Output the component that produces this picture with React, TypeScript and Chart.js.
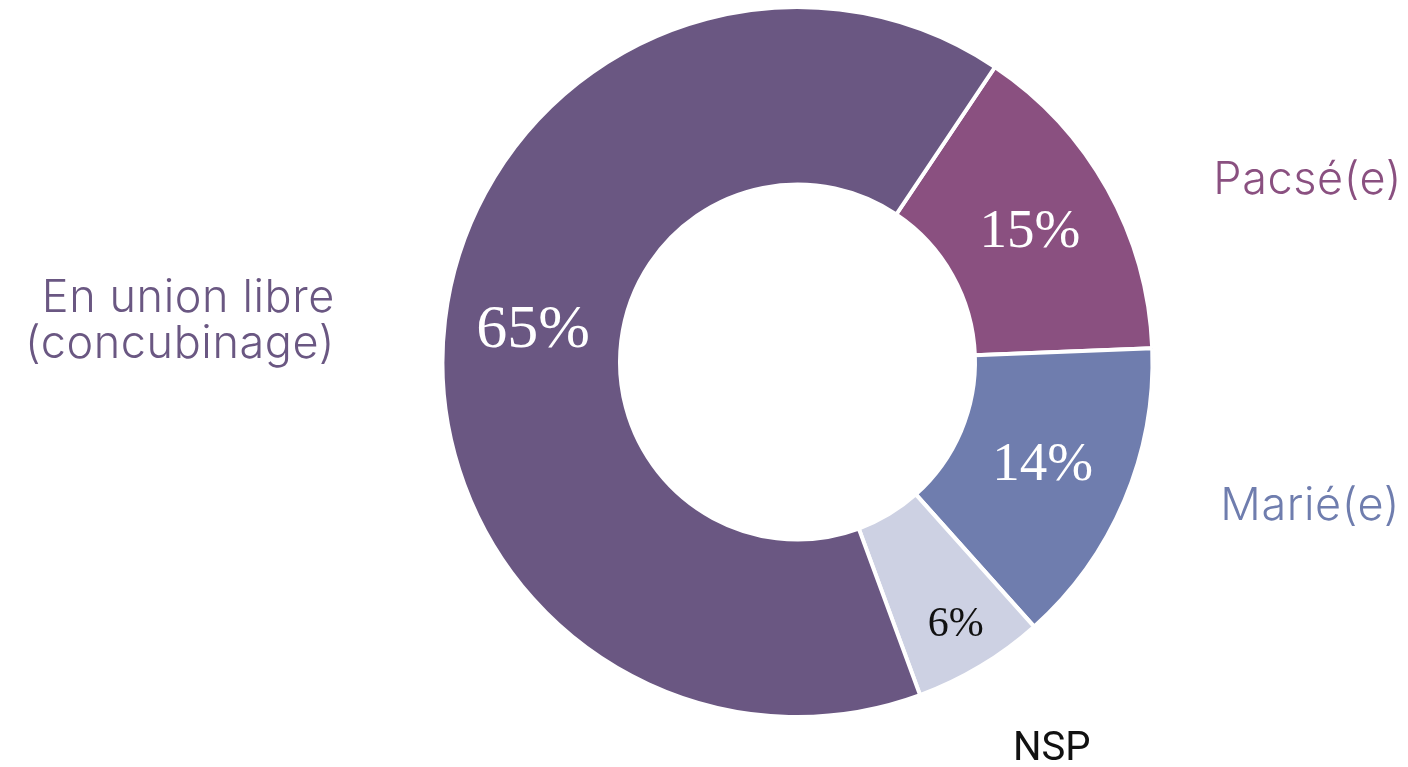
import React, { useEffect, useRef } from 'react';
import { Chart, registerables } from 'chart.js';

Chart.register(...registerables);

// ---- data ----
const categories = ['Pacsé(e)', 'Marié(e)', 'NSP', 'En union libre (concubinage)'];
const values = [15, 14, 6, 65];
const percentLabels = ['15%', '14%', '6%', '65%'];
const outerLabelLines = [['Pacsé(e)'], ['Marié(e)'], ['NSP'], ['En union libre', '(concubinage)']];

// ---- styles ----
const sliceColors = ['#8A5080', '#6F7DAE', '#CDD1E3', '#6A5782'];
const percentColors = ['#ffffff', '#ffffff', '#111111', '#ffffff'];
const percentSizes = [55, 55, 42, 62];
const percentRadial = [0.5, 0.5, 0.73, 0.5];
const outerColors = ['#8A5080', '#6F7DAE', '#111111', '#6A5782'];
const outerFonts = ['300 45px Inter', '300 45px Inter', '40px Roboto', '300 45px Inter'];
const outerSpacing = ['0.6px', '0.6px', '0px', '0.6px'];
// [x, first baseline y, align]
const outerPos: [number, number, CanvasTextAlign][] = [
  [1402, 194, 'right'],
  [1400, 520, 'right'],
  [1013, 760, 'left'],
  [335, 312, 'right'],
];
const outerLineHeight = 46;

const labelPlugin = {
  id: 'sliceLabels',
  afterDatasetsDraw(chart: any) {
    const ctx: CanvasRenderingContext2D = chart.ctx;
    const meta = chart.getDatasetMeta(0);
    ctx.save();
    meta.data.forEach((arc: any, i: number) => {
      const { x, y, startAngle, endAngle, innerRadius, outerRadius } = arc.getProps(
        ['x', 'y', 'startAngle', 'endAngle', 'innerRadius', 'outerRadius'],
        false
      );
      const mid = (startAngle + endAngle) / 2;
      const r = innerRadius + (outerRadius - innerRadius) * percentRadial[i];
      ctx.font = `${percentSizes[i]}px "Liberation Serif", serif`;
      ctx.fillStyle = percentColors[i];
      ctx.textAlign = 'center';
      ctx.textBaseline = 'middle';
      ctx.fillText(percentLabels[i], x + Math.cos(mid) * r, y + Math.sin(mid) * r);
    });
    outerLabelLines.forEach((lines, i) => {
      const [x, y, align] = outerPos[i];
      ctx.font = outerFonts[i];
      (ctx as any).letterSpacing = outerSpacing[i];
      ctx.fillStyle = outerColors[i];
      ctx.textAlign = align;
      ctx.textBaseline = 'alphabetic';
      lines.forEach((line, j) => ctx.fillText(line, x, y + j * outerLineHeight));
    });
    (ctx as any).letterSpacing = '0px';
    ctx.restore();
  },
};

export default function App() {
  const ref = useRef<HTMLCanvasElement>(null);
  useEffect(() => {
    document.body.style.margin = '0';
    const chart = new Chart(ref.current as HTMLCanvasElement, {
      type: 'doughnut',
      data: {
        labels: categories,
        datasets: [
          {
            data: values,
            backgroundColor: sliceColors,
            borderColor: '#ffffff',
            borderWidth: 4,
          },
        ],
      },
      options: {
        responsive: true,
        maintainAspectRatio: false,
        animation: false,
        rotation: 33.8,
        cutout: '50%',
        layout: { padding: { left: 400, right: 213, top: 5, bottom: 48 } },
        plugins: { legend: { display: false }, tooltip: { enabled: false } },
      },
      plugins: [labelPlugin],
    } as any);
    return () => chart.destroy();
  }, []);
  return (
    <div style={{ position: 'fixed', left: 0, top: 0, width: 1408, height: 767, background: '#fff' }}>
      <canvas ref={ref} />
    </div>
  );
}
